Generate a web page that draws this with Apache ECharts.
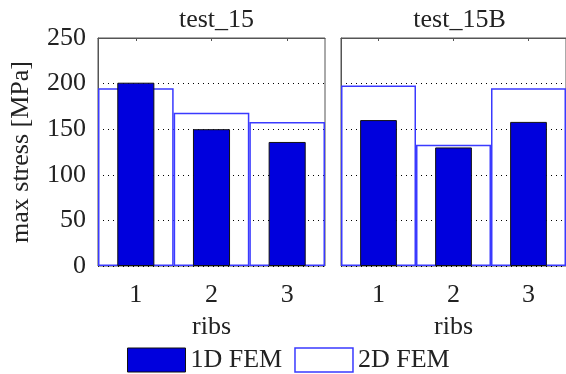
<!DOCTYPE html>
<html>
<head>
<meta charset="utf-8">
<script src="https://cdn.jsdelivr.net/npm/echarts@6/dist/echarts.min.js"></script>
<style>
  html, body { margin: 0; padding: 0; background: #fff; }
  #chart { width: 566px; height: 374px; }
</style>
</head>
<body>
<div id="chart"></div>
<script>
const ribs = ['1', '2', '3']
const panels = ['test_15', 'test_15B']
const fem1d = [
  [201, 150, 136],
  [160, 130, 158]
]
const fem2d = [
  [195, 168, 158],
  [198, 133, 195]
]
const yTicks = { min: 0, max: 250, interval: 50 }

const font = 'Liberation Serif'
const fs = 26
const textColor = '#222'
const blue = '#0000DD'
const outline = '#3a3aff'
const frame = '#555'

const chart = echarts.init(document.getElementById('chart'))

const grids = []
const xAxes = []
const yAxes = []
const series = []
const titles = []
const lefts = [98, 341]

panels.forEach((name, i) => {
  grids.push({
    left: lefts[i], top: 38, width: i === 0 ? 227 : 229, height: 228,
    show: true, borderColor: frame, borderWidth: 1, backgroundColor: 'transparent'
  })
  titles.push({
    text: name,
    left: lefts[i] + 113.5,
    top: 2,
    textAlign: 'center',
    textStyle: { fontFamily: font, fontSize: fs, fontWeight: 'normal', color: textColor }
  })
  // bottom axis: labels + name, carries 2D series
  xAxes.push({
    type: 'category', gridIndex: i, data: ribs, position: 'bottom',
    axisLine: { show: false }, axisTick: { show: false },
    axisLabel: { fontFamily: font, fontSize: fs, color: textColor, margin: 16 },
    name: 'ribs', nameLocation: 'middle', nameGap: 48,
    nameTextStyle: { fontFamily: font, fontSize: fs, color: textColor }
  })
  // top axis: ticks only, carries 1D series
  xAxes.push({
    type: 'category', gridIndex: i, data: ribs, position: 'top',
    axisLine: { show: true, lineStyle: { color: frame, width: 1 } },
    axisTick: { show: true, inside: true, alignWithLabel: true, length: 3, lineStyle: { color: frame } },
    axisLabel: { show: false }
  })
  yAxes.push({
    type: 'value', gridIndex: i,
    min: yTicks.min, max: yTicks.max, interval: yTicks.interval,
    axisLine: { show: true, lineStyle: { color: frame } },
    axisTick: { show: false },
    axisLabel: { show: i === 0, fontFamily: font, fontSize: fs, color: textColor, margin: 12 },
    splitLine: { show: true, lineStyle: { type: [1, 4], color: '#000', width: 1 } },
    name: i === 0 ? 'max stress [MPa]' : '',
    nameLocation: 'middle', nameGap: 64,
    nameTextStyle: { fontFamily: font, fontSize: fs, color: textColor }
  })
  series.push({
    name: '2D FEM', type: 'bar', xAxisIndex: i * 2, yAxisIndex: i,
    data: fem2d[i], barWidth: '100%', z: 3,
    itemStyle: { color: 'rgba(255,255,255,0)', borderColor: outline, borderWidth: 1.5 }
  })
  series.push({
    name: '1D FEM', type: 'bar', xAxisIndex: i * 2 + 1, yAxisIndex: i,
    data: fem1d[i], barWidth: '49%', z: 4,
    itemStyle: { color: blue, borderColor: '#111', borderWidth: 1 }
  })
})

chart.setOption({
  animation: false,
  backgroundColor: '#fff',
  title: titles,
  grid: grids,
  xAxis: xAxes,
  yAxis: yAxes,
  legend: {
    data: [
      { name: '1D FEM', itemStyle: { color: blue, borderColor: '#111', borderWidth: 1 } },
      { name: '2D FEM', itemStyle: { color: '#fff', borderColor: outline, borderWidth: 1.5 } }
    ],
    left: 122, top: 342,
    itemWidth: 58, itemHeight: 24, itemGap: 12,
    icon: 'rect',
    textStyle: { fontFamily: font, fontSize: fs, color: textColor }
  },
  series
})
</script>
</body>
</html>
